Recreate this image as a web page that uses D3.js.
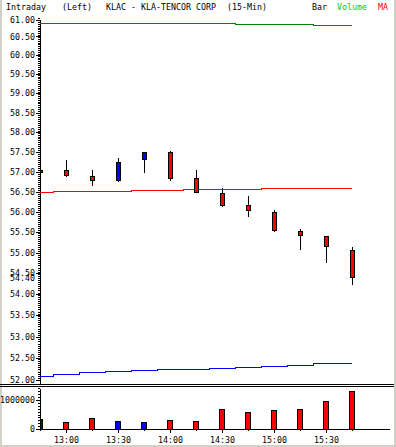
<!DOCTYPE html>
<html>
<head>
<meta charset="utf-8">
<script src="https://cdn.jsdelivr.net/npm/d3@7"></script>
<style>
  html, body { margin: 0; padding: 0; background: #fff; }
  svg { display: block; }
  text { font-family: "DejaVu Sans Mono", "Liberation Mono", monospace; font-size: 8.3px; }
</style>
</head>
<body>
<script>
// 15-min bars
const times  = ['12:45', '13:00', '13:15', '13:30', '13:45', '14:00', '14:15',
                '14:30', '14:45', '15:00', '15:15', '15:30', '15:45'];
const open   = [56.98, 57.03, 56.90, 56.78, 57.32, 57.50, 56.84, 56.47, 56.17, 56.00, 55.53, 55.41, 55.07];
const high   = [57.20, 57.30, 57.05, 57.35, 57.51, 57.54, 57.05, 56.59, 56.40, 56.06, 55.58, 55.41, 55.15];
const low    = [56.90, 56.88, 56.66, 56.76, 56.98, 56.78, 56.47, 56.14, 55.89, 55.52, 55.08, 54.77, 54.24];
const close  = [57.03, 56.91, 56.78, 57.24, 57.50, 56.84, 56.49, 56.16, 56.05, 55.55, 55.43, 55.16, 54.40];
const volume = [317000, 239000, 375000, 249000, 215000, 307000, 273000,
                683000, 580000, 648000, 683000, 956000, 1297000];

// moving averages
const maGreen = [60.86, 60.86, 60.86, 60.86, 60.86, 60.86, 60.86, 60.86, 60.84, 60.84, 60.84, 60.81, 60.81];
const maRed   = [56.50, 56.52, 56.52, 56.52, 56.54, 56.54, 56.57, 56.57, 56.57, 56.59, 56.59, 56.59, 56.59];
const maBlue  = [52.11, 52.15, 52.18, 52.21, 52.23, 52.25, 52.27, 52.29, 52.30, 52.32, 52.36, 52.39, 52.39];

// axis ticks
const priceTicks = [52, 52.5, 53, 53.5, 54, 54.5, 55, 55.5, 56, 56.5, 57, 57.5, 58, 58.5, 59, 59.5, 60, 60.5, 61];
const volTicks   = [0, 1000000];
const timeLabels = ['13:00', '13:30', '14:00', '14:30', '15:00', '15:30'];

const width    = 396;
const height   = 447;
const plotLeft = 40;
const plotTop  = 20;

const parse = d3.timeParse('%H:%M');
const bars  = times.map((t, i) => ({
  t: parse(t), o: open[i], h: high[i], l: low[i], c: close[i], v: volume[i],
  g: maGreen[i], r: maRed[i], b: maBlue[i]
}));

// scales
const x    = d3.scaleTime().domain([parse('12:45'), parse('16:00')]).range([40, 378]);
const y    = d3.scaleLog().domain([52, 61]).range([380.3, 18.2]);
const yVol = d3.scaleLinear().domain([0, 1000000]).range([429, 400]);

const svg = d3.select('body')
  .append('svg')
    .attr('width',  width)
    .attr('height', height);

svg.append('rect').attr('width', width).attr('height', height).attr('fill', '#fff');

// window frame
const frame = '#d4d0c8';
svg.append('rect').attr('x', 0).attr('y', 0).attr('width', 2).attr('height', height).attr('fill', frame);
svg.append('rect').attr('x', 394).attr('y', 0).attr('width', 2).attr('height', height).attr('fill', frame);
svg.append('rect').attr('x', 0).attr('y', 445).attr('width', width).attr('height', 2).attr('fill', frame);

// header
const header = [
  ['Intraday', 6, '#000'], ['(Left)', 62, '#000'], ['KLAC - KLA-TENCOR CORP', 106, '#000'],
  ['(15-Min)', 227, '#000'], ['Bar', 312, '#000'], ['Volume', 337, '#00d000'], ['MA', 378, '#ff0000']
];
svg.selectAll('text.header')
  .data(header)
  .join('text')
    .attr('class', 'header')
    .attr('x', (d) => d[1])
    .attr('y', 9.5)
    .attr('fill', (d) => d[2])
    .text((d) => d[0]);

svg.append('clipPath').attr('id', 'plot')
  .append('rect').attr('x', 40).attr('y', 0).attr('width', 354).attr('height', 445);

// price axis
const yAxis = svg.append('g')
  .attr('transform', `translate(${plotLeft},0)`)
  .call(d3.axisLeft(y).tickValues(priceTicks).tickFormat(d3.format('.2f')).tickSize(4).tickPadding(1));
yAxis.select('.domain').remove();
yAxis.selectAll('.tick').attr('transform', (d) => `translate(0,${Math.max(y(d), plotTop)})`);

const yMinor = svg.append('g')
  .attr('transform', `translate(${plotLeft},0)`)
  .call(d3.axisLeft(y).tickValues(d3.range(52, 61.001, 0.05)).tickFormat('').tickSize(2));
yMinor.select('.domain').remove();

// last price label
svg.append('text')
  .attr('x', 35).attr('y', y(close[close.length - 1])).attr('dy', '0.32em')
  .attr('text-anchor', 'end')
  .text(d3.format('.2f')(close[close.length - 1]));

svg.append('line').attr('x1', plotLeft + 0.5).attr('x2', plotLeft + 0.5).attr('y1', plotTop).attr('y2', 384)
  .attr('stroke', '#000');

// moving averages
const ma = (key) => d3.line().curve(d3.curveStep).x((d) => x(d.t)).y((d) => Math.round(y(d[key])) + 0.5);
[['g', '#008000'], ['r', '#ff0000'], ['b', '#0000ff']].forEach(([key, color]) => {
  svg.append('path')
    .attr('d', ma(key)(bars))
    .attr('fill', 'none')
    .attr('stroke', color)
    .attr('stroke-width', 1)
    .attr('shape-rendering', 'crispEdges');
});

// candles
const candles = svg.append('g').attr('clip-path', 'url(#plot)').attr('shape-rendering', 'crispEdges');
candles.selectAll('line')
  .data(bars)
  .join('line')
    .attr('x1', (d) => x(d.t) + 0.5)
    .attr('x2', (d) => x(d.t) + 0.5)
    .attr('y1', (d) => y(d.h))
    .attr('y2', (d) => y(d.l))
    .attr('stroke', '#000');
candles.selectAll('rect')
  .data(bars)
  .join('rect')
    .attr('x', (d) => x(d.t) - 1.5)
    .attr('y', (d) => y(Math.max(d.o, d.c)))
    .attr('width', 4)
    .attr('height', (d) => Math.max(1, y(Math.min(d.o, d.c)) - y(Math.max(d.o, d.c))))
    .attr('fill', (d) => (d.c >= d.o ? '#0000ff' : '#ff0000'))
    .attr('stroke', '#000');

// panel separator
[384.5, 386.5].forEach((yy) => {
  svg.append('line').attr('x1', 0).attr('x2', 394).attr('y1', yy).attr('y2', yy).attr('stroke', '#000');
});

// volume bars
const vols = svg.append('g').attr('clip-path', 'url(#plot)').attr('shape-rendering', 'crispEdges');
vols.selectAll('rect')
  .data(bars)
  .join('rect')
    .attr('x', (d) => x(d.t) - 2.5)
    .attr('y', (d) => yVol(d.v))
    .attr('width', 5)
    .attr('height', (d) => yVol(0) - yVol(d.v))
    .attr('fill', (d) => (d.c >= d.o ? '#0000ff' : '#ff0000'))
    .attr('stroke', '#000');

// volume axis
const vAxis = svg.append('g')
  .attr('transform', `translate(${plotLeft},0)`)
  .call(d3.axisLeft(yVol).tickValues(volTicks).tickFormat(d3.format('d')).tickSize(4).tickPadding(1));
vAxis.select('.domain').remove();
const vMinor = svg.append('g')
  .attr('transform', `translate(${plotLeft},0)`)
  .call(d3.axisLeft(yVol).tickValues(d3.range(0, 1400001, 100000)).tickFormat('').tickSize(2));
vMinor.select('.domain').remove();
svg.append('line').attr('x1', plotLeft + 0.5).attr('x2', plotLeft + 0.5).attr('y1', 389).attr('y2', 429.5)
  .attr('stroke', '#000');

// time axis
const xAxis = svg.append('g')
  .attr('transform', 'translate(0,429)')
  .call(d3.axisBottom(x).tickValues(timeLabels.map(parse)).tickFormat(d3.timeFormat('%H:%M')).tickSize(4).tickPadding(4));
xAxis.select('.domain').remove();
const xMinor = svg.append('g')
  .attr('transform', 'translate(0,429)')
  .call(d3.axisBottom(x).tickValues(bars.map((d) => d.t)).tickFormat('').tickSize(2));
xMinor.select('.domain').remove();
svg.append('line').attr('x1', plotLeft).attr('x2', 390).attr('y1', 429.5).attr('y2', 429.5).attr('stroke', '#000');

// plain pixel look
svg.selectAll('.tick line').attr('stroke', '#000');
svg.selectAll('.tick text').attr('fill', '#000');
svg.selectAll('g').attr('font-family', null).attr('font-size', null);
svg.selectAll('line').attr('shape-rendering', 'crispEdges');
</script>
</body>
</html>
